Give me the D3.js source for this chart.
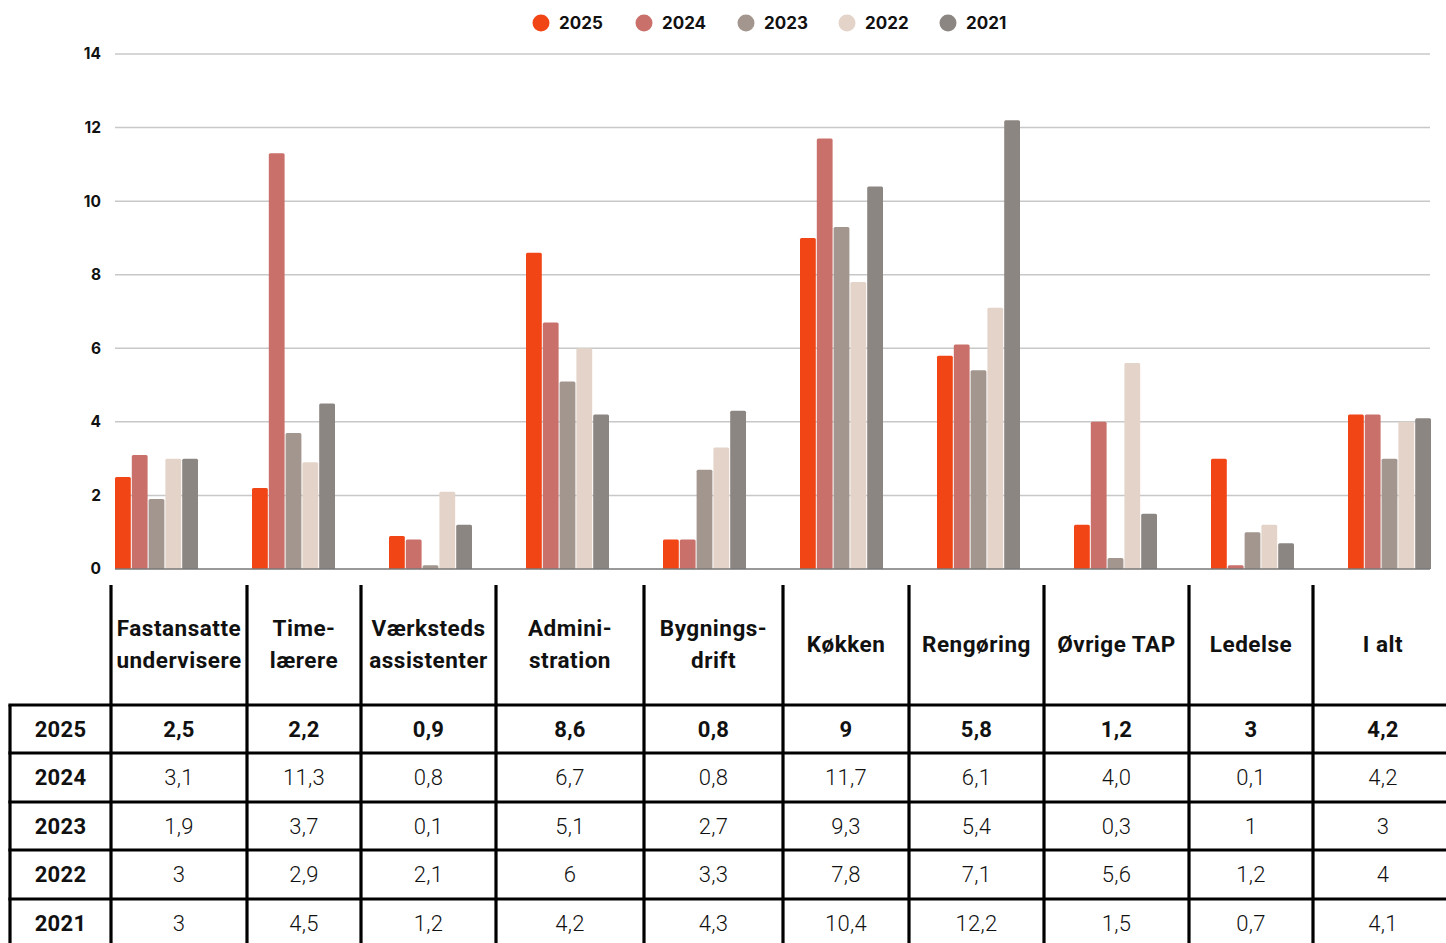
<!DOCTYPE html>
<html>
<head>
<meta charset="utf-8">
<script src="https://cdn.jsdelivr.net/npm/d3@7"></script>
<style>
  body { margin: 0; background: #fff; }
  svg { display: block; }
</style>
</head>
<body>
<script>
var categories = ["Fastansatte undervisere", "Time-lærere", "Værksteds assistenter", "Admini-stration",
                  "Bygnings-drift", "Køkken", "Rengøring", "Øvrige TAP", "Ledelse", "I alt"];
var header_lines = [["Fastansatte", "undervisere"], ["Time-", "lærere"], ["Værksteds", "assistenter"],
                    ["Admini-", "stration"], ["Bygnings-", "drift"], ["Køkken"], ["Rengøring"],
                    ["Øvrige TAP"], ["Ledelse"], ["I alt"]];
var years = ["2025", "2024", "2023", "2022", "2021"];
var v2025 = [2.5, 2.2, 0.9, 8.6, 0.8, 9, 5.8, 1.2, 3, 4.2];
var v2024 = [3.1, 11.3, 0.8, 6.7, 0.8, 11.7, 6.1, 4.0, 0.1, 4.2];
var v2023 = [1.9, 3.7, 0.1, 5.1, 2.7, 9.3, 5.4, 0.3, 1, 3];
var v2022 = [3, 2.9, 2.1, 6, 3.3, 7.8, 7.1, 5.6, 1.2, 4];
var v2021 = [3, 4.5, 1.2, 4.2, 4.3, 10.4, 12.2, 1.5, 0.7, 4.1];
// table shows these as typed in the source sheet
var t2024 = ["3,1", "11,3", "0,8", "6,7", "0,8", "11,7", "6,1", "4,0", "0,1", "4,2"];
var y_ticks = [0, 2, 4, 6, 8, 10, 12, 14];

var series = [v2025, v2024, v2023, v2022, v2021];
var colors = ["#f24516", "#c9706a", "#a3968e", "#e3d3c8", "#8c8683"];

var W = 1446, H = 943;
var svg = d3.select("body").append("svg").attr("width", W).attr("height", H);

var fmt = function(v) { return String(v).replace(".", ","); };

// ---- chart ----
var plot = {left: 115, right: 1430, top: 54, bottom: 569};
var step = 137;

var x0 = d3.scaleBand().domain(categories)
    .range([plot.left, plot.left + step * categories.length]).padding(0).align(0);
var x1 = d3.scaleBand().domain(years).range([0, 83]).paddingInner(0.06);
var y = d3.scaleLinear().domain([0, 14]).range([plot.bottom, plot.top]);

// gridlines
svg.append("g").selectAll("line")
    .data(y_ticks.filter(function(t) { return t > 0; }))
  .enter().append("line")
    .attr("x1", plot.left).attr("x2", plot.right)
    .attr("y1", function(d) { return y(d); }).attr("y2", function(d) { return y(d); })
    .attr("stroke", "#c8c8c8").attr("stroke-width", 1.5);

// y axis labels
var y_axis = d3.axisLeft(y).tickValues(y_ticks).tickSize(0).tickPadding(14);
var ya = svg.append("g").attr("transform", "translate(" + plot.left + ",0)").call(y_axis);
ya.select(".domain").remove();
ya.selectAll("text")
    .attr("font-family", "Inter, 'DejaVu Sans', sans-serif")
    .attr("font-weight", 700).attr("font-size", 15.5).attr("fill", "#111");

// bars
var groups = svg.append("g").selectAll("g")
    .data(categories)
  .enter().append("g")
    .attr("transform", function(d) { return "translate(" + x0(d) + ",0)"; });

groups.selectAll("rect")
    .data(function(d, i) { return series.map(function(s, k) { return {year: years[k], value: s[i], k: k}; }); })
  .enter().append("path")
    .attr("fill", function(d) { return colors[d.k]; })
    .attr("d", function(d) {
      var x = x1(d.year), w = x1.bandwidth(), yt = y(d.value), yb = y(0), r = Math.min(1.5, (yb - yt) / 2);
      return "M" + x + "," + yb + "V" + (yt + r) + "Q" + x + "," + yt + " " + (x + r) + "," + yt +
             "H" + (x + w - r) + "Q" + (x + w) + "," + yt + " " + (x + w) + "," + (yt + r) + "V" + yb + "Z";
    });

// baseline
svg.append("line")
    .attr("x1", plot.left).attr("x2", plot.right)
    .attr("y1", y(0)).attr("y2", y(0))
    .attr("stroke", "#777").attr("stroke-width", 1.5);

// legend
var leg_x = [541, 644, 746, 847, 948];
var legend = svg.append("g").selectAll("g")
    .data(years)
  .enter().append("g")
    .attr("transform", function(d, i) { return "translate(" + leg_x[i] + ",23)"; });
legend.append("circle").attr("r", 8.5).attr("fill", function(d, i) { return colors[i]; });
legend.append("text")
    .attr("x", 18).attr("dy", "0.36em")
    .attr("font-family", "Inter, 'DejaVu Sans', sans-serif")
    .attr("font-weight", 700).attr("font-size", 17).attr("fill", "#111")
    .text(function(d) { return d; });

// ---- table ----
var col_edges = [10, 111, 247, 361, 496, 644, 783, 909, 1044, 1189, 1313, 1453];
var row_edges = [705, 753, 802, 850, 899, 947];
var head_top = 585;
var tfont = "Roboto, 'Liberation Sans', sans-serif";
var table = svg.append("g");

var rows = [
  {label: "2025", vals: v2025.map(fmt), bold: true},
  {label: "2024", vals: t2024, bold: false},
  {label: "2023", vals: v2023.map(fmt), bold: false},
  {label: "2022", vals: v2022.map(fmt), bold: false},
  {label: "2021", vals: v2021.map(fmt), bold: false}
];

// header text
header_lines.forEach(function(lines, i) {
  var cx = (col_edges[i + 1] + col_edges[i + 2]) / 2;
  var cy = (head_top + row_edges[0]) / 2 - 1;
  var t = table.append("text")
      .attr("x", cx).attr("text-anchor", "middle")
      .attr("font-family", tfont).attr("font-weight", 700).attr("font-size", 22.5)
      .attr("letter-spacing", 0.5)
      .attr("fill", "#111");
  lines.forEach(function(l, j) {
    t.append("tspan").attr("x", cx)
        .attr("y", cy + (j - (lines.length - 1) / 2) * 32)
        .attr("dy", "0.36em").text(l);
  });
});

// body rows
rows.forEach(function(r, ri) {
  var cy = (row_edges[ri] + row_edges[ri + 1]) / 2;
  if (ri === 4) cy = row_edges[ri] + 24;
  table.append("text")
      .attr("x", (col_edges[0] + col_edges[1]) / 2).attr("y", cy).attr("dy", "0.36em")
      .attr("text-anchor", "middle")
      .attr("font-family", tfont).attr("font-weight", 700).attr("font-size", 22)
      .attr("letter-spacing", 0.3)
      .attr("fill", "#111").text(r.label);
  r.vals.forEach(function(v, ci) {
    table.append("text")
        .attr("x", (col_edges[ci + 1] + col_edges[ci + 2]) / 2).attr("y", cy).attr("dy", "0.36em")
        .attr("text-anchor", "middle")
        .attr("font-family", tfont).attr("font-weight", r.bold ? 700 : 300).attr("font-size", 22)
        .attr("letter-spacing", 0.3)
        .attr("fill", "#111").text(v);
  });
});

// grid lines of table
var lw = 3.2;
col_edges.slice(1, 11).forEach(function(x) {
  table.append("line").attr("x1", x).attr("x2", x).attr("y1", head_top).attr("y2", H)
      .attr("stroke", "#000").attr("stroke-width", lw);
});
table.append("line").attr("x1", col_edges[0]).attr("x2", col_edges[0])
    .attr("y1", row_edges[0]).attr("y2", H).attr("stroke", "#000").attr("stroke-width", lw);
row_edges.slice(0, 5).forEach(function(yv) {
  table.append("line").attr("x1", col_edges[0] - lw / 2).attr("x2", W).attr("y1", yv).attr("y2", yv)
      .attr("stroke", "#000").attr("stroke-width", lw);
});
</script>
</body>
</html>
